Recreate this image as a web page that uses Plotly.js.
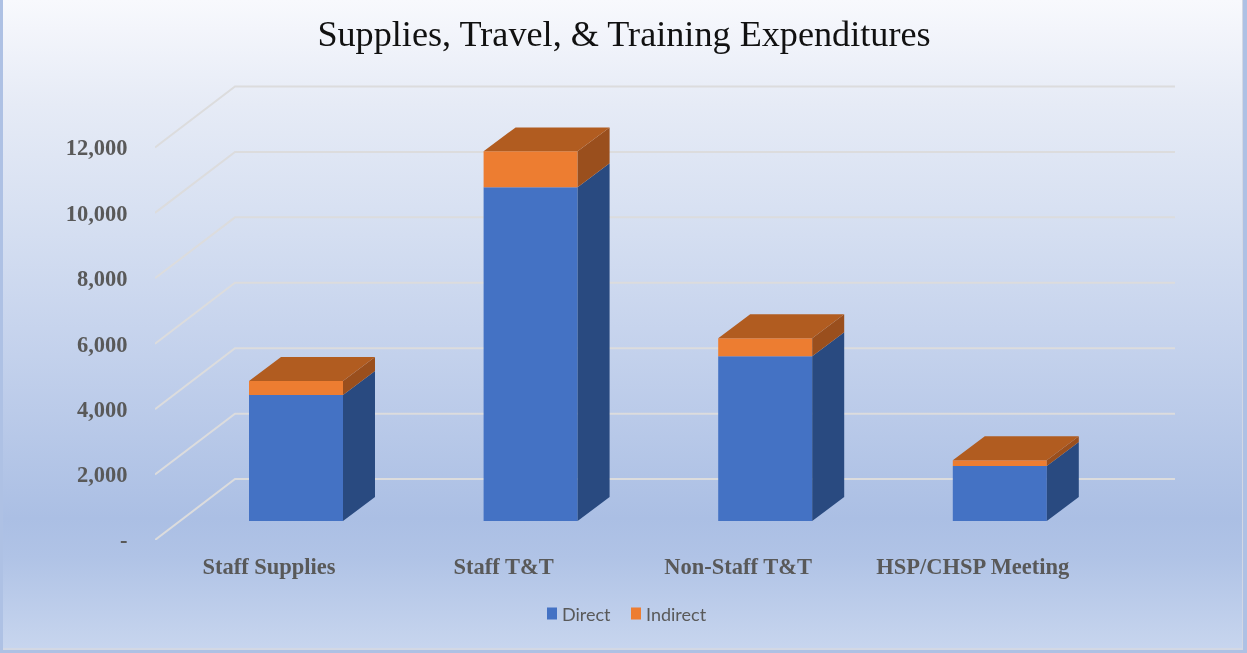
<!DOCTYPE html>
<html>
<head>
<meta charset="utf-8">
<script src="https://cdn.plot.ly/plotly-3.0.1.min.js"></script>
<style>
html,body{margin:0;padding:0;width:1247px;height:653px;overflow:hidden;background:#aec1e4;}
#bg{position:absolute;left:3px;top:0;width:1239px;height:648px;border-right:1px solid #d3d8e4;border-bottom:2px solid #d3d8e4;
background:linear-gradient(to bottom,#f8f9fd 0%,#e6ebf6 16%,#d8e1f2 32%,#c3d1ec 55%,#abbfe4 80%,#b0c3e6 86%,#c7d5ee 100%);}
#chart{position:absolute;left:0;top:0;width:1247px;height:653px;filter:blur(0.45px);}
</style>
</head>
<body>
<div id="bg"></div>
<div id="chart"></div>
<script>
const categories = ["Staff Supplies", "Staff T&T", "Non-Staff T&T", "HSP/CHSP Meeting"];
const direct = [3850, 10200, 5040, 1680];
const indirect = [430, 1100, 550, 180];
const yTicks = [0, 2000, 4000, 6000, 8000, 10000, 12000];
const yLabels = ["-", "2,000", "4,000", "6,000", "8,000", "10,000", "12,000"];

// Oblique projection of the chart's pseudo-3D box, expressed in axis units.
const plotL = 155, plotR = 1175, plotBottom = 540;
const pxPerIdx = 234.6, pxPerVal = 65.5 / 2000;
const xMin = -114 / pxPerIdx, xMax = xMin + (plotR - plotL) / pxPerIdx;
const yMax = 14000, plotTop = plotBottom - yMax * pxPerVal;
const ux = px => px / pxPerIdx, uy = px => px / pxPerVal;
const floorFront = uy(19), depthX = ux(32), depthY = uy(24);
const wallX = xMin + ux(80), wallY = uy(61);
const barShift = ux(27), barWidth = ux(94);
const idx = categories.map((_, i) => i);
const barX = idx.map(i => i + barShift);

function sideFaces(lo, hi) {
  const xs = [], ys = [];
  idx.forEach(i => {
    const r = barX[i] + barWidth / 2;
    const a = floorFront + lo[i], b = floorFront + hi[i];
    xs.push(r, r + depthX, r + depthX, r, r, null);
    ys.push(a, a + depthY, b + depthY, b, a, null);
  });
  return {xs, ys};
}
function topFaces(total) {
  const xs = [], ys = [];
  idx.forEach(i => {
    const l = barX[i] - barWidth / 2, r = barX[i] + barWidth / 2;
    const t = floorFront + total[i];
    xs.push(l, r, r + depthX, l + depthX, l, null);
    ys.push(t, t, t + depthY, t + depthY, t, null);
  });
  return {xs, ys};
}
const total = idx.map(i => direct[i] + indirect[i]);
const zero = idx.map(() => 0);
function face(f, color) {
  return {type: "scatter", mode: "lines", x: f.xs, y: f.ys, fill: "toself", fillcolor: color,
    line: {width: 0, color: color}, showlegend: false, hoverinfo: "skip"};
}
const sideD = sideFaces(zero, direct), sideI = sideFaces(direct, total), tops = topFaces(total);

const traces = [
  {type: "bar", name: "Direct", x: barX, y: direct, base: idx.map(() => floorFront), width: barWidth,
    marker: {color: "#4472C4"}, hoverinfo: "skip"},
  {type: "bar", name: "Indirect", x: barX, y: indirect, base: direct.map(v => floorFront + v), width: barWidth,
    marker: {color: "#ED7D31"}, hoverinfo: "skip"},
  face(sideD, "#294A80"),
  face(sideI, "#9A4F1D"),
  face(tops, "#B15C20")
];

const gridShapes = yTicks.map(v => ({
  type: "path", layer: "below", xref: "x", yref: "y",
  path: `M ${xMin} ${v} L ${wallX} ${v + wallY} L ${xMax} ${v + wallY}`,
  line: {color: "#dcdcdd", width: 2}
}));

const layout = {
  width: 1247, height: 653,
  paper_bgcolor: "rgba(0,0,0,0)", plot_bgcolor: "rgba(0,0,0,0)",
  margin: {l: plotL, r: 1247 - plotR, t: plotTop, b: 653 - plotBottom, pad: 0},
  barmode: "overlay",
  title: {text: "Supplies, Travel, &amp; Training Expenditures",
    font: {family: "Liberation Serif", size: 36.2, color: "#111111"},
    x: 624 / 1247, xanchor: "center", y: 1 - 33 / 653, yanchor: "middle"},
  xaxis: {range: [xMin, xMax], tickvals: idx, ticktext: categories.map(c => c.replace("&", "&amp;")),
    showgrid: false, zeroline: false, showline: false, ticks: "outside", ticklen: 6, tickcolor: "rgba(0,0,0,0)",
    tickangle: 0, tickfont: {family: "Liberation Serif", size: 22.5, color: "#595959", weight: "bold"}},
  yaxis: {range: [0, yMax], tickvals: yTicks, ticktext: yLabels,
    showgrid: false, zeroline: false, showline: false, ticks: "outside", ticklen: 22, tickcolor: "rgba(0,0,0,0)",
    tickfont: {family: "Liberation Serif", size: 22.5, color: "#595959", weight: "bold"}},
  legend: {orientation: "h", x: (632 - plotL) / (plotR - plotL), xanchor: "center",
    y: (plotBottom - 614) / (plotBottom - plotTop), yanchor: "middle",
    font: {family: "Lato", size: 18, color: "#595959"}, bgcolor: "rgba(0,0,0,0)", itemwidth: 30},
  shapes: gridShapes,
  showlegend: true
};
Plotly.newPlot("chart", traces, layout, {displayModeBar: false, staticPlot: true}).then(() => {
  // The reference's legend keys sit closer to their labels than Plotly's minimum item width allows.
  const items = document.querySelectorAll(".legend .traces");
  const m0 = (items[0].getAttribute("transform") || "").match(/translate\(([-\d.]+)[ ,]*([-\d.]*)/);
  items.forEach((it, i) => {
    const t = it.querySelector(".legendtext");
    t.setAttribute("x", parseFloat(t.getAttribute("x")) - 10);
    t.querySelectorAll("tspan[x]").forEach(s => s.setAttribute("x", parseFloat(s.getAttribute("x")) - 10));
    it.querySelectorAll(".legendpoints path").forEach(p => p.setAttribute("d", "M5,6H-5V-6H5Z"));
    if (i === 1 && m0) it.setAttribute("transform", `translate(${parseFloat(m0[1]) + 84},${m0[2] || 0})`);
  });
});
</script>
</body>
</html>
